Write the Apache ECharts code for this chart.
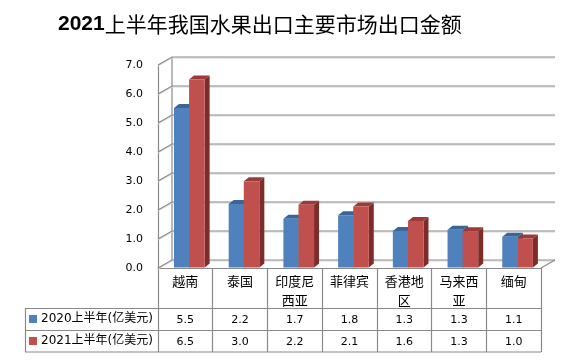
<!DOCTYPE html>
<html>
<head>
<meta charset="utf-8">
<script src="https://cdn.jsdelivr.net/npm/echarts@6/dist/echarts.min.js"></script>
<style>
html,body{margin:0;padding:0;background:#fff;}
#chart{width:573px;height:360px;}
</style>
</head>
<body>
<div id="chart"></div>
<script>
// ---- data ----
const titleText = '2021上半年我国水果出口主要市场出口金额';
const categories = ['越南', '泰国', '印度尼西亚', '菲律宾', '香港地区', '马来西亚', '缅甸'];
const seriesNames = ['2020上半年(亿美元)', '2021上半年(亿美元)'];
const values2020 = [5.52, 2.21, 1.70, 1.82, 1.28, 1.32, 1.08];
const values2021 = [6.50, 2.99, 2.18, 2.12, 1.62, 1.27, 1.02];
const yTicks = [0, 1, 2, 3, 4, 5, 6, 7];

// ---- styles ----
const faceColors = [
  { front: '#4F81BD', top: '#3B6597', side: '#2F5483' },
  { front: '#C0504D', top: '#9B3B38', side: '#7F2B29' }
];
const barOffsets = [-0.208, 0.068];
const gridColor = '#8a8a8a';
const numFont = 'DejaVu Sans, Verdana, sans-serif';
const cjkFont = 'Noto Sans CJK SC, sans-serif';
const DX = 14, DY = 8;

const chart = echarts.init(document.getElementById('chart'), null, { renderer: 'canvas' });

function barRenderer(s) {
  return function (params, api) {
    const idx = api.value(0), v = api.value(1);
    const top = api.coord([idx, v]);
    const base = api.coord([idx, 0]);
    const band = api.size([1, 0])[0];
    const w = band * 0.284;
    const x0 = top[0] + barOffsets[s] * band;
    const x1 = x0 + w;
    const yt = top[1], yb = base[1] - 0.5;
    const dx = 5, dy = 4;
    const c = faceColors[s];
    return {
      type: 'group',
      children: [
        { type: 'polygon', shape: { points: [[x1, yt], [x1 + dx, yt - dy], [x1 + dx, yb - dy], [x1, yb]] }, style: { fill: c.side } },
        { type: 'polygon', shape: { points: [[x0, yt], [x0 + dx, yt - dy], [x1 + dx, yt - dy], [x1, yt]] }, style: { fill: c.top } },
        { type: 'rect', shape: { x: x0, y: yt, width: w, height: yb - yt }, style: { fill: c.front } }
      ]
    };
  };
}

function wallRenderer(params, api) {
  const v = api.value(1);
  const p = api.coord([0, v]);
  const band = api.size([1, 0])[0];
  const L = p[0] - band / 2;
  const R = L + band * categories.length;
  const y = p[1];
  const children = [
    { type: 'polyline', shape: { points: [[L, y + 1], [L + DX, y - DY + 1], [R + DX, y - DY + 1]] }, style: { stroke: '#d8d8d8', lineWidth: 1, fill: null } },
    { type: 'polyline', shape: { points: [[L, y], [L + DX, y - DY], [R + DX, y - DY]] }, style: { stroke: gridColor, lineWidth: 1.2, fill: null } }
  ];
  if (v === yTicks[0]) {
    const yTop = api.coord([0, yTicks[yTicks.length - 1]])[1];
    children.push({ type: 'line', shape: { x1: R, y1: y, x2: R + DX, y2: y - DY }, style: { stroke: gridColor, lineWidth: 1.2 } });
    children.push({ type: 'line', shape: { x1: L + DX, y1: y - DY, x2: L + DX, y2: yTop - DY }, style: { stroke: gridColor, lineWidth: 1.2 } });
  }
  return { type: 'group', children: children };
}

function tableRenderer(params, api) {
  const idx = api.value(0);
  const p = api.coord([idx, 0]);
  const a = values2020[idx].toFixed(1);
  const b = values2021[idx].toFixed(1);
  return {
    type: 'group',
    children: [
      { type: 'text', x: p[0], y: p[1] + 52, style: { text: a, fontSize: 11, fontFamily: numFont, fill: '#000', align: 'center', verticalAlign: 'middle' } },
      { type: 'text', x: p[0], y: p[1] + 74, style: { text: b, fontSize: 11, fontFamily: numFont, fill: '#000', align: 'center', verticalAlign: 'middle' } }
    ]
  };
}

function legendFor(i, top) {
  return {
    data: [seriesNames[i]],
    orient: 'vertical',
    left: 29,
    top: top,
    padding: 0,
    itemWidth: 8,
    itemHeight: 8,
    itemGap: 0,
    icon: 'rect',
    selectedMode: false,
    textStyle: { fontSize: 12, color: '#000', padding: [0, 0, 0, -1], fontFamily: 'DejaVu Sans, Noto Sans CJK SC, sans-serif' }
  };
}

const titleMatch = titleText.match(/^(\d+)(.*)$/);

const option = {
  animation: false,
  backgroundColor: '#ffffff',
  title: {
    text: '{b|' + titleMatch[1] + '}{n|' + titleMatch[2] + '}',
    left: 53,
    top: 9,
    textStyle: {
      rich: {
        b: { fontSize: 21, fontWeight: 'bold', color: '#000', fontFamily: 'Liberation Sans, sans-serif' },
        n: { fontSize: 21, fontWeight: 'normal', color: '#000', fontFamily: 'Noto Sans CJK SC, sans-serif' }
      }
    }
  },
  legend: [legendFor(0, 313), legendFor(1, 335)],
  grid: { left: 158, right: 32, top: 65, bottom: 92, containLabel: false },
  xAxis: {
    type: 'category',
    data: categories,
    boundaryGap: true,
    axisLine: { show: true, lineStyle: { color: gridColor, width: 1.2 } },
    axisTick: { show: true, interval: 0, length: 84, lineStyle: { color: gridColor, width: 1.2 } },
    axisLabel: {
      interval: 0,
      margin: 4,
      fontSize: 13,
      lineHeight: 19,
      color: '#000',
      fontFamily: cjkFont,
      formatter: function (n) { return n.length > 3 ? n.slice(0, 3) + '\n' + n.slice(3) : n; }
    },
    splitLine: { show: false }
  },
  yAxis: {
    type: 'value',
    min: 0,
    max: 7,
    interval: 1,
    axisLine: { show: true, lineStyle: { color: gridColor, width: 1.2 } },
    axisTick: { show: false },
    splitLine: { show: false },
    axisLabel: { margin: 15, fontSize: 11, color: '#000', fontFamily: numFont, formatter: function (v) { return v.toFixed(1); } }
  },
  graphic: [
    { type: 'line', shape: { x1: 25, y1: 308.5, x2: 541, y2: 308.5 }, style: { stroke: gridColor, lineWidth: 1.2 }, silent: true },
    { type: 'line', shape: { x1: 25, y1: 330.5, x2: 541, y2: 330.5 }, style: { stroke: gridColor, lineWidth: 1.2 }, silent: true },
    { type: 'line', shape: { x1: 25, y1: 352, x2: 541, y2: 352 }, style: { stroke: gridColor, lineWidth: 1.2 }, silent: true },
    { type: 'line', shape: { x1: 25.5, y1: 308, x2: 25.5, y2: 352 }, style: { stroke: gridColor, lineWidth: 1.2 }, silent: true }
  ],
  series: [
    {
      type: 'custom', name: 'walls', z: 1, silent: true,
      renderItem: wallRenderer,
      encode: { x: 0, y: 1 },
      data: yTicks.map(function (v) { return [0, v]; })
    },
    {
      type: 'custom', name: seriesNames[0], z: 3,
      itemStyle: { color: faceColors[0].front },
      renderItem: barRenderer(0),
      encode: { x: 0, y: 1 },
      data: values2020.map(function (v, i) { return [i, v]; })
    },
    {
      type: 'custom', name: seriesNames[1], z: 4,
      itemStyle: { color: faceColors[1].front },
      renderItem: barRenderer(1),
      encode: { x: 0, y: 1 },
      data: values2021.map(function (v, i) { return [i, v]; })
    },
    {
      type: 'custom', name: 'table', z: 5, silent: true,
      renderItem: tableRenderer,
      encode: { x: 0, y: 1 },
      data: categories.map(function (c, i) { return [i, 0]; })
    }
  ]
};
chart.setOption(option);
</script>
</body>
</html>
